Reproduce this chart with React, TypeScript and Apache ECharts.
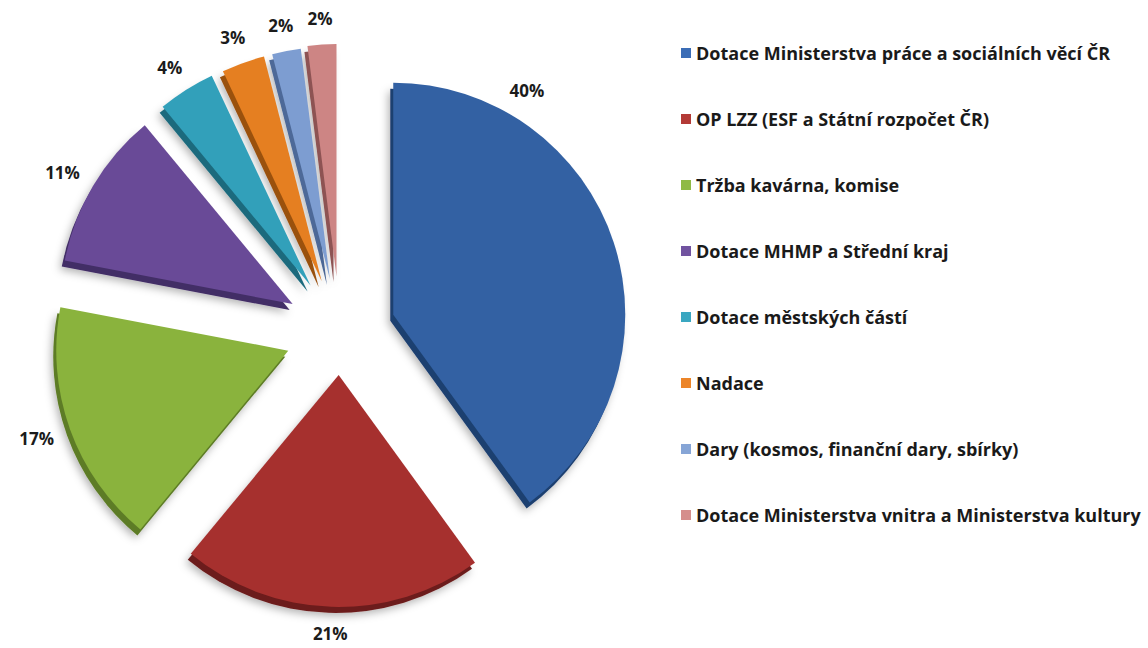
import React, { useEffect, useRef } from "react";
import * as echarts from "echarts";

// ---- data ----
const categories = [
  "Dotace Ministerstva práce a sociálních věcí ČR",
  "OP LZZ (ESF a Státní rozpočet ČR)",
  "Tržba kavárna, komise",
  "Dotace MHMP a Střední kraj",
  "Dotace městských částí",
  "Nadace",
  "Dary (kosmos, finanční dary, sbírky)",
  "Dotace Ministerstva vnitra a Ministerstva kultury",
];
const shares = [40, 21, 17, 11, 4, 3, 2, 2];
const valueSuffix = "%";

// ---- styles / layout ----
const TOP_COLORS = ["#3361a3", "#a6302e", "#8ab33d", "#694a97", "#32a0ba", "#e57f21", "#7d9dd1", "#cd8584"];
const SIDE_COLORS = ["#1f3f70", "#6c1d1c", "#5d7c25", "#432e66", "#1d6a7d", "#9a5110", "#4d6998", "#8d5352"];
const LEGEND_COLORS = ["#3b6db6", "#b33a36", "#8fba45", "#7153a0", "#3aa7c1", "#ec8529", "#86a5d6", "#d58e8c"];
const CENTER = [340, 332];
const RADIUS = 232;
const EXPLODE = [56, 43, 55, 55, 55, 54, 54, 56];
const DEPTH = [-3, 6];
const LABEL_GAP = 18;
const LABEL_ANGLE_OVERRIDE: Record<number, number> = { 0: 30 };
const FONT = "'Open Sans', Lato, sans-serif";

export default function App() {
  const ref = useRef<HTMLDivElement>(null);

  useEffect(() => {
    const chart = echarts.init(ref.current!, null, { renderer: "svg" });
    const total = shares.reduce((a, b) => a + b, 0);
    const series: any[] = [];
    let cum = 0;

    shares.forEach((v, i) => {
      const start = cum;
      cum += v;
      const mid = ((start + v / 2) / total) * 2 * Math.PI;
      const cx = CENTER[0] + EXPLODE[i] * Math.sin(mid);
      const cy = CENTER[1] - EXPLODE[i] * Math.cos(mid);
      const startAngle = 90 - (start / total) * 360;
      const labelAng =
        LABEL_ANGLE_OVERRIDE[i] !== undefined ? (LABEL_ANGLE_OVERRIDE[i] * Math.PI) / 180 : mid;
      const ldx = Math.sin(labelAng);
      const ldy = -Math.cos(labelAng);

      const mk = (color: string) => [
        { name: categories[i], value: v, itemStyle: { color } },
        {
          name: "",
          value: total - v,
          itemStyle: { color: "rgba(0,0,0,0)", shadowBlur: 0, shadowColor: "rgba(0,0,0,0)" },
          label: { show: false },
          emphasis: { disabled: true },
        },
      ];

      // depth (side) layer
      series.push({
        type: "pie",
        z: 1,
        silent: true,
        center: [cx + DEPTH[0], cy + DEPTH[1]],
        radius: [0, RADIUS],
        startAngle,
        clockwise: true,
        avoidLabelOverlap: false,
        label: { show: false },
        labelLine: { show: false },
        emphasis: { disabled: true },
        itemStyle: {
          borderWidth: 0,
          shadowColor: "rgba(0,0,0,0.3)",
          shadowBlur: 8,
          shadowOffsetX: -2,
          shadowOffsetY: 3,
        },
        data: mk(SIDE_COLORS[i]),
      });

      // top layer
      series.push({
        type: "pie",
        z: 2,
        silent: true,
        center: [cx, cy],
        radius: [0, RADIUS],
        startAngle,
        clockwise: true,
        avoidLabelOverlap: false,
        emphasis: { disabled: true },
        itemStyle: { borderWidth: 0 },
        label: {
          show: true,
          position: "outside",
          formatter: (p: any) => p.value + valueSuffix,
          fontFamily: FONT,
          fontWeight: "bold",
          fontSize: 17,
          color: "#1b1b1b",
        },
        labelLine: { show: false },
        labelLayout: (params: any) => {
          if (params.dataIndex !== 0) return {};
          const w = params.labelRect.width;
          const h = params.labelRect.height;
          const d = RADIUS + LABEL_GAP;
          return {
            x: cx + ldx * d + (ldx * w) / 2,
            y: cy + ldy * d + (ldy * h) / 2,
            align: "center",
            verticalAlign: "middle",
          };
        },
        data: mk(TOP_COLORS[i]),
      });
    });

    chart.setOption({
      animation: false,
      backgroundColor: "#ffffff",
      legend: {
        orient: "vertical",
        left: 681,
        top: 43,
        padding: 0,
        itemWidth: 10,
        itemHeight: 10,
        itemGap: 46,
        icon: "rect",
        selectedMode: false,
        textStyle: {
          fontFamily: FONT,
          fontWeight: "bold",
          fontSize: 18,
          lineHeight: 20,
          color: "#1a1a1a",
        },
        data: categories.map((name, i) => ({
          name,
          itemStyle: { color: LEGEND_COLORS[i], opacity: 1, borderWidth: 0 },
        })),
      },
      series,
    });

    return () => chart.dispose();
  }, []);

  return (
    <div
      ref={ref}
      style={{ position: "fixed", left: 0, top: 0, width: 1148, height: 648, background: "#fff" }}
    />
  );
}
